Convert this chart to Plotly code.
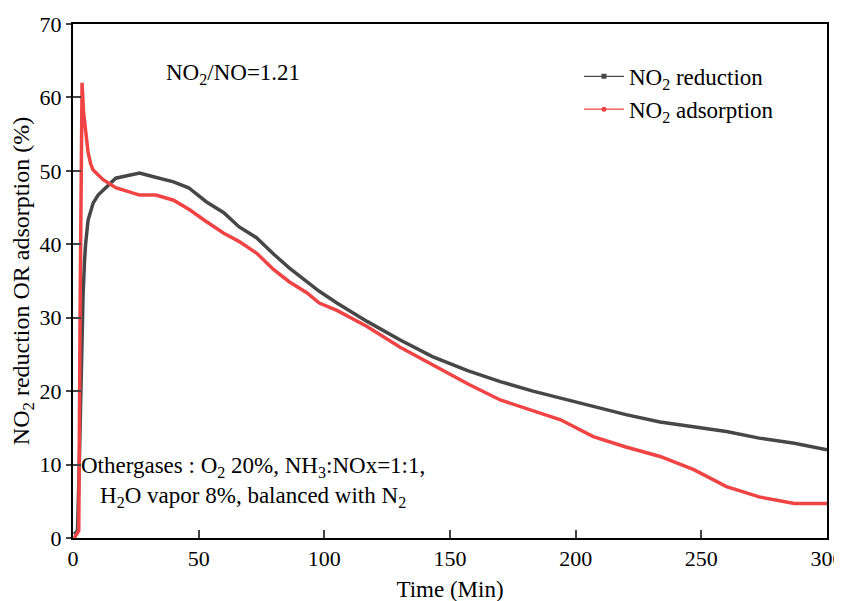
import plotly.graph_objects as go

# NO2 reduction (black)
t_red = [0.5, 1.8, 2.5, 3.0, 3.5, 4.0, 4.6, 5.0, 6.0, 8.0, 10, 12, 17, 21, 26.5, 32, 40, 46,
         53, 60, 66, 73, 80, 86, 93, 98, 105, 117, 130, 143, 157, 170, 183, 196.5, 207,
         220, 233.6, 247, 260, 273, 287, 300]
v_red = [0.5, 1.0, 10, 20, 28, 33, 37.8, 40, 43.3, 45.6, 46.7, 47.4, 49.0, 49.3, 49.7, 49.2,
         48.5, 47.7, 45.8, 44.3, 42.4, 40.9, 38.6, 36.8, 35.0, 33.6, 32.0, 29.5, 27.0, 24.7,
         22.8, 21.3, 20.0, 18.8, 17.9, 16.8, 15.8, 15.2, 14.5, 13.6, 12.9, 12.0]

# NO2 adsorption (red)
t_ads = [0.5, 2.3, 2.8, 3.3, 3.6, 4.2, 5.0, 6.0, 7.0, 8.0, 12, 17, 26.5, 33, 40, 46.4, 53,
         60, 66, 73, 80, 86, 93, 98, 105, 117, 130, 143, 157, 170, 183, 194, 207, 220,
         233.6, 247, 260, 273, 287, 300]
v_ads = [0.0, 1.0, 30, 62, 62, 58, 55, 52.5, 51, 50.1, 48.8, 47.7, 46.7, 46.7, 46.0, 44.7,
         43.1, 41.5, 40.4, 38.8, 36.5, 34.9, 33.4, 32.0, 31.0, 28.8, 26.0, 23.6, 21.0, 18.8,
         17.3, 16.1, 13.8, 12.4, 11.1, 9.3, 7.0, 5.6, 4.7, 4.7]

x_ticks = [0, 50, 100, 150, 200, 250, 300]
y_ticks = [0, 10, 20, 30, 40, 50, 60, 70]

BLACK = "#474747"
RED = "#f04444"
FONT = "Liberation Serif"

fig = go.Figure()
fig.add_trace(go.Scatter(x=t_red, y=v_red, mode="lines", line=dict(color=BLACK, width=3.5),
                         showlegend=False, hoverinfo="skip"))
fig.add_trace(go.Scatter(x=t_ads, y=v_ads, mode="lines", line=dict(color=RED, width=3.5),
                         showlegend=False, hoverinfo="skip"))
fig.add_trace(go.Scatter(x=[None], y=[None], mode="lines+markers", name="NO<sub>2</sub> reduction",
                         line=dict(color=BLACK, width=1.2), marker=dict(symbol="square", size=5, color=BLACK)))
fig.add_trace(go.Scatter(x=[None], y=[None], mode="lines+markers", name="NO<sub>2</sub> adsorption",
                         line=dict(color=RED, width=1.2), marker=dict(symbol="circle", size=5, color=RED)))
# invisible trace for the inner y ticks
fig.add_trace(go.Scatter(x=[None], y=[None], yaxis="y2", showlegend=False, hoverinfo="skip"))

fig.update_layout(
    width=842, height=601,
    margin=dict(l=65, r=23, t=16, b=71),
    plot_bgcolor="white", paper_bgcolor="white",
    font=dict(family=FONT, size=22, color="black"),
    xaxis=dict(range=[0, 300], tickvals=x_ticks, ticks="inside", ticklen=8, tickwidth=1.5,
               showline=True, linecolor="black", linewidth=2, mirror=True, showgrid=False,
               zeroline=False, tickfont=dict(family=FONT, size=22), automargin=False,
               ticklabelstandoff=0,
               title=dict(text="Time (Min)", font=dict(family=FONT, size=23), standoff=10)),
    yaxis=dict(range=[0, 70], tickvals=y_ticks, ticks="outside", ticklen=5, tickwidth=1.5,
               showline=True, linecolor="black", linewidth=2, mirror=True, showgrid=False,
               zeroline=False, tickfont=dict(family=FONT, size=22), ticklabelstandoff=0,
               automargin=False,
               title=dict(text="NO<sub>2</sub> reduction OR adsorption (%)",
                          font=dict(family=FONT, size=24), standoff=6)),
    yaxis2=dict(range=[0, 70], tickvals=y_ticks, ticks="inside", ticklen=8, tickwidth=1.5,
                overlaying="y", side="left", showticklabels=False, showgrid=False,
                zeroline=False, showline=False, automargin=False),
    legend=dict(x=0.671, y=0.94, xanchor="left", yanchor="top", font=dict(family=FONT, size=23),
                bgcolor="rgba(0,0,0,0)", tracegroupgap=0, itemwidth=40),
    annotations=[
        dict(text="NO<sub>2</sub>/NO=1.21", x=0.121, y=0.903, xref="paper", yref="paper",
             xanchor="left", yanchor="middle", showarrow=False, font=dict(family=FONT, size=23)),
        dict(text="Othergases : O<sub>2</sub> 20%, NH<sub>3</sub>:NOx=1:1,<br>H<sub>2</sub>O vapor 8%, balanced with N<sub>2</sub>",
             x=0.008, y=0.109, xref="paper", yref="paper", xanchor="left", yanchor="middle",
             align="center", showarrow=False, font=dict(family=FONT, size=23)),
    ],
)

fig.write_html("out.html")
